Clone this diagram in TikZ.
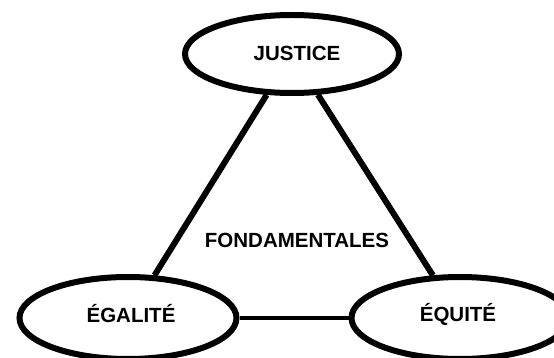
\documentclass[tikz,border=0pt]{standalone}
\usepackage{fontspec}
\setmainfont{Liberation Sans}
\usetikzlibrary{shapes.geometric}
\begin{document}
\begin{tikzpicture}[x=1pt,y=-1pt,
  oval/.style={ellipse, draw=black, line width=6pt, inner sep=0pt, fill=white},
  lbl/.style={font=\fontsize{20.5pt}{24pt}\selectfont\bfseries, text=black, inner sep=0pt},
  side/.style={line width=6pt, draw=black},
  base/.style={line width=4pt, draw=black}]
\useasboundingbox (0,0) rectangle (554,358);
\clip (0,0) rectangle (554,358);
\fill[white] (0,0) rectangle (554,358);
\node[oval, minimum width=214pt, minimum height=78pt] (jus) at (292,54) {};
\node[oval, minimum width=217pt, minimum height=82pt] (ega) at (128,318) {};
\node[oval, minimum width=217pt, minimum height=82pt] (equ) at (460,318) {};
\draw[side] (jus) -- (ega);
\draw[side] (jus) -- (equ);
\draw[base] (ega) -- (equ);
\node[lbl] (tjus) at (297,53) {JUSTICE};
\node[lbl] (tega) at (131,314) {ÉGALITÉ};
\node[lbl] (tequ) at (458,314) {ÉQUITÉ};
\node[lbl] (tfon) at (297,240) {FONDAMENTALES};
\end{tikzpicture}
\end{document}
